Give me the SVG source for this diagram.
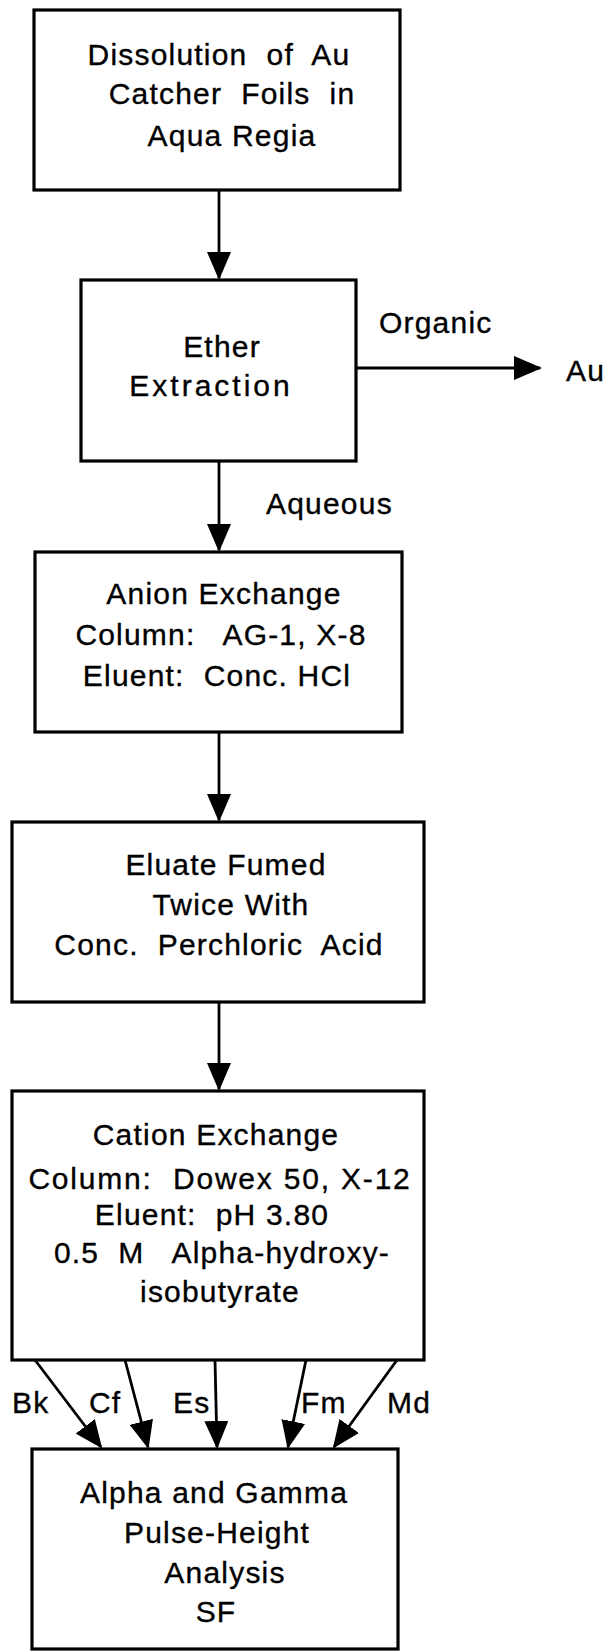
<svg xmlns="http://www.w3.org/2000/svg" width="609" height="1651" viewBox="0 0 609 1651" xml:space="preserve">
<style>
.box{fill:#fff;stroke:#000;stroke-width:3.2}
.t{font-family:"Liberation Sans",Arial,Helvetica,sans-serif;font-size:30px;fill:#000;stroke:#000;stroke-width:0.35;letter-spacing:1.2px;white-space:pre}
.m{text-anchor:middle}
.c{fill:none;stroke:#000;stroke-width:2.8}
</style>
<defs>
<marker id="ah" markerUnits="userSpaceOnUse" viewBox="0 0 28 24" markerWidth="28" markerHeight="24" refX="26" refY="12" orient="auto">
<path d="M0,0 L28,12 L0,24 Z" fill="#000"/>
</marker>
</defs>
<rect width="609" height="1651" fill="#fff"/>
<g id="connectors">
<line class="c" x1="219" y1="190" x2="219" y2="278" marker-end="url(#ah)"/>
<line class="c" x1="356" y1="368" x2="540" y2="368" marker-end="url(#ah)"/>
<line class="c" x1="219" y1="461" x2="219" y2="550" marker-end="url(#ah)"/>
<line class="c" x1="219" y1="732" x2="219" y2="820" marker-end="url(#ah)"/>
<line class="c" x1="219" y1="1002" x2="219" y2="1089" marker-end="url(#ah)"/>
<line class="c" x1="35" y1="1360" x2="101" y2="1447" marker-end="url(#ah)"/>
<line class="c" x1="125" y1="1360" x2="148" y2="1447" marker-end="url(#ah)"/>
<line class="c" x1="215" y1="1360" x2="217" y2="1447" marker-end="url(#ah)"/>
<line class="c" x1="306" y1="1360" x2="288" y2="1447" marker-end="url(#ah)"/>
<line class="c" x1="397" y1="1360" x2="334" y2="1447" marker-end="url(#ah)"/>
<text class="t" x="379" y="333">Organic</text>
<text class="t" x="266" y="514">Aqueous</text>
<text class="t" x="12" y="1413">Bk</text>
<text class="t" x="89" y="1413">Cf</text>
<text class="t" x="173" y="1413">Es</text>
<text class="t" x="301" y="1413">Fm</text>
<text class="t" x="387" y="1413">Md</text>
</g>
<g id="n1">
<rect class="box" x="34" y="10" width="366" height="180"/>
<text class="t m" x="219" y="65">Dissolution  of  Au</text>
<text class="t m" x="232" y="104">Catcher  Foils  in</text>
<text class="t m" x="232" y="146">Aqua Regia</text>
</g>
<g id="n2">
<rect class="box" x="81" y="280" width="275" height="181"/>
<text class="t m" x="222" y="357">Ether</text>
<text class="t m" x="211" y="396" style="letter-spacing:3px">Extraction</text>
</g>
<g id="au">
<text class="t" x="566" y="381">Au</text>
</g>
<g id="n3">
<rect class="box" x="35" y="552" width="367" height="180"/>
<text class="t m" x="224" y="604">Anion Exchange</text>
<text class="t m" x="221" y="645">Column:   AG-1, X-8</text>
<text class="t m" x="217" y="686">Eluent:  Conc. HCl</text>
</g>
<g id="n4">
<rect class="box" x="12" y="822" width="412" height="180"/>
<text class="t m" x="226" y="875">Eluate Fumed</text>
<text class="t m" x="231" y="915">Twice With</text>
<text class="t m" x="219" y="955">Conc.  Perchloric  Acid</text>
</g>
<g id="n5">
<rect class="box" x="12" y="1091" width="412" height="269"/>
<text class="t m" x="216" y="1145">Cation Exchange</text>
<text class="t m" x="220" y="1189" style="letter-spacing:1.8px">Column:  Dowex 50, X-12</text>
<text class="t m" x="212" y="1225">Eluent:  pH 3.80</text>
<text class="t m" x="222" y="1263">0.5  M   Alpha-hydroxy-</text>
<text class="t m" x="220" y="1302">isobutyrate</text>
</g>
<g id="n6">
<rect class="box" x="32" y="1449" width="366" height="200"/>
<text class="t m" x="214" y="1503">Alpha and Gamma</text>
<text class="t m" x="217" y="1543">Pulse-Height</text>
<text class="t m" x="225" y="1583">Analysis</text>
<text class="t m" x="216" y="1622">SF</text>
</g>
</svg>
